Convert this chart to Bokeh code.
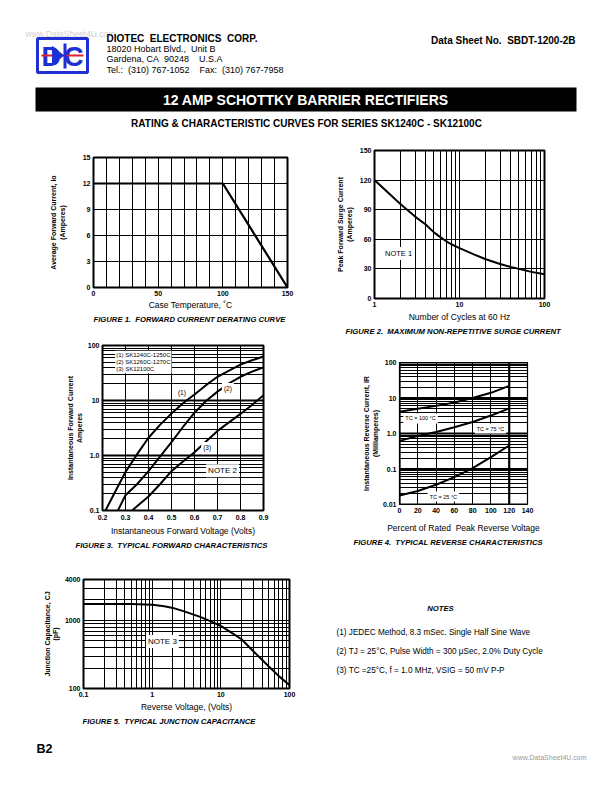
from bokeh.plotting import figure
from bokeh.models import Range1d, FixedTicker, Label, Title, Span
from bokeh.layouts import column, row
from bokeh.embed import file_html
from bokeh.resources import INLINE
from bokeh.core.properties import value

FONT = "Liberation Sans"
NB = "\u00a0"

# ---------------- data ----------------
fig1_temp = [0, 100, 150]
fig1_current = [12, 12, 0]
fig1_xticks = [0, 50, 100, 150]
fig1_yticks = [0, 3, 6, 9, 12, 15]

fig2_cycles = [1, 2, 3, 4, 5, 6, 7, 8, 10, 15, 20, 30, 40, 50, 70, 100]
fig2_surge = [120, 96, 83, 75, 67, 62, 58, 55, 51, 44.5, 40, 35, 32, 30, 27, 24.5]
fig2_xticks = [1, 10, 100]
fig2_yticks = [0, 30, 60, 90, 120, 150]

fig3_v1 = [0.213, 0.25, 0.3, 0.35, 0.4, 0.45, 0.5, 0.55, 0.6, 0.65, 0.7, 0.75, 0.8, 0.85, 0.9]
fig3_i1 = [0.1, 0.2, 0.5, 1.05, 2.1, 3.6, 5.8, 8.9, 12.9, 19, 27, 35, 45, 54, 63]
fig3_v2 = [0.267, 0.3, 0.35, 0.4, 0.45, 0.5, 0.55, 0.6, 0.65, 0.7, 0.75, 0.8, 0.85, 0.9]
fig3_i2 = [0.1, 0.19, 0.3, 0.52, 0.95, 1.75, 3.3, 6.0, 9.8, 14.5, 20.5, 27, 33.5, 40]
fig3_v3 = [0.329, 0.35, 0.4, 0.45, 0.5, 0.55, 0.6, 0.65, 0.7, 0.75, 0.8, 0.85, 0.9]
fig3_i3 = [0.1, 0.12, 0.18, 0.3, 0.52, 0.78, 1.15, 1.8, 2.8, 4.0, 5.7, 8.3, 12.5]
fig3_xticks = [0.2, 0.3, 0.4, 0.5, 0.6, 0.7, 0.8, 0.9]
fig3_yticks = [0.1, 1, 10, 100]
fig3_ylabels = {0.1: "0.1", 1: "1.0", 10: "10", 100: "100"}
fig3_legend = "(1) SK1240C-1250C\n(2) SK1260C-1270C\n(3) SK12100C"

fig4_pct = [0, 20, 40, 60, 80, 100, 120]
fig4_ir100 = [4.1, 5.0, 6.0, 7.5, 10, 14, 22]
fig4_ir75 = [0.62, 0.85, 1.1, 1.5, 2.1, 3.2, 5.1]
fig4_ir25 = [0.018, 0.024, 0.036, 0.059, 0.106, 0.215, 0.46]
fig4_xticks = [0, 20, 40, 60, 80, 100, 120, 140]
fig4_yticks = [0.01, 0.1, 1, 10, 100]
fig4_ylabels = {0.01: "0.01", 0.1: "0.1", 1: "1.0", 10: "10", 100: "100"}

fig5_vr = [0.1, 0.2, 0.5, 1, 1.5, 2, 3, 5, 7, 10, 15, 20, 30, 50, 70, 100]
fig5_cj = [1750, 1750, 1740, 1700, 1620, 1530, 1350, 1130, 980, 830, 640, 530, 350, 210, 152, 112]
fig5_xticks = [0.1, 1, 10, 100]
fig5_xlabels = {0.1: "0.1", 1: "1", 10: "10", 100: "100"}
fig5_yticks = [100, 1000, 4000]
fig5_ylabels = {100: "100", 1000: "1000", 4000: "4000"}

notes = [
    "(1) JEDEC Method, 8.3 mSec. Single Half Sine Wave",
    "(2) TJ = 25\u00b0C, Pulse Width = 300 \u03bcSec, 2.0% Duty Cycle",
    "(3) TC =25\u00b0C, f = 1.0 MHz, VSIG = 50 mV P-P",
]


def log_minor(lo_exp, hi_exp, upto=None):
    out = []
    for e in range(lo_exp, hi_exp):
        for m in range(1, 10):
            out.append(m * 10.0 ** e)
    out.append(10.0 ** hi_exp)
    if upto is not None:
        out = [t for t in out if t <= upto * 1.0001]
    return out


def page_fig(x0, x1, y0, y1):
    p = figure(width=x1 - x0, height=y1 - y0, x_range=Range1d(x0, x1),
               y_range=Range1d(y1, y0), x_axis_type=None, y_axis_type=None,
               output_backend="svg", toolbar_location=None, title=None,
               min_border=0)
    p.outline_line_color = None
    p.background_fill_color = "white"
    p.border_fill_color = "white"
    return p


def txt(p, x, y, s, size, style="normal", align="left", color="black"):
    p.text(x=[x], y=[y], text=[s], text_font=value(FONT), text_font_size=size,
           text_font_style=style, text_align=align, text_baseline="middle",
           text_color=color)


def make_chart(w, h, left, right, top, bottom, xr, yr, xlog=False, ylog=False):
    p = figure(width=w, height=h, x_range=Range1d(*xr), y_range=Range1d(*yr),
               x_axis_type="log" if xlog else "linear",
               y_axis_type="log" if ylog else "linear",
               output_backend="svg", toolbar_location=None, title=None,
               min_border_left=left, min_border_right=right,
               min_border_top=top, min_border_bottom=bottom)
    p.outline_line_color = "black"
    p.outline_line_width = 2
    p.outline_line_alpha = 1
    p.border_fill_color = "white"
    p.background_fill_color = "white"
    for ax in p.axis:
        ax.axis_line_color = None
        ax.major_tick_line_color = None
        ax.minor_tick_line_color = None
        ax.major_tick_out = 0
        ax.major_tick_in = 0
        ax.minor_tick_out = 0
        ax.minor_tick_in = 0
        ax.major_label_text_font = FONT
        ax.major_label_text_font_size = "7px"
        ax.major_label_text_font_style = "bold"
        ax.major_label_text_color = "black"
        ax.major_label_standoff = 3
        ax.axis_label_text_font = FONT
        ax.axis_label_text_color = "black"
    p.xaxis.axis_label_text_font_size = "8.5px"
    p.xaxis.axis_label_text_font_style = "normal"
    p.xaxis.axis_label_standoff = 4
    p.yaxis.axis_label_text_font_size = "7px"
    p.yaxis.axis_label_text_font_style = "bold"
    p.grid.grid_line_color = "black"
    p.grid.grid_line_alpha = 1
    p.grid.grid_line_width = 1
    p.grid.minor_grid_line_color = None
    return p


def caption(p, text, offset, standoff=0):
    p.add_layout(Title(text=text, align="left", offset=offset, standoff=standoff,
                       text_font=FONT, text_font_size="7.7px",
                       text_font_style="bold italic", text_color="black"), "below")


def note_label(p, x, y, s, size="7.5px", align="center"):
    p.add_layout(Label(x=x, y=y, text=s, text_font=FONT, text_font_size=size,
                       text_align=align, text_baseline="middle",
                       background_fill_color="white", text_color="black",
                       padding=2))


# ---------------- header ----------------
hdr = page_fig(0, 604, 0, 130)
txt(hdr, 25, 33, "www.DataSheet4U.com", "8.5px", color="#cfcfcf")
# logo
hdr.quad(left=[37], right=[87], top=[38], bottom=[72], fill_color="white",
         line_color="#1f2fd6", line_width=3)
txt(hdr, 41, 56, "D", "27px", "bold", color="#1f2fd6")
txt(hdr, 83, 56, "C", "27px", "bold", align="right", color="#1f2fd6")
hdr.line(x=[41, 83], y=[55, 55], line_color="#e0202a", line_width=2)
hdr.patch(x=[52, 52, 63], y=[46, 64, 55], fill_color="#1f2fd6", line_color="#1f2fd6")
hdr.quad(left=[63], right=[66], top=[43], bottom=[68], fill_color="#1f2fd6", line_color=None)
txt(hdr, 106, 38, "DIOTEC" + NB * 2 + "ELECTRONICS" + NB * 2 + "CORP.", "10px", "bold")
txt(hdr, 106, 48.5, "18020 Hobart Blvd.," + NB * 2 + "Unit B", "9px")
txt(hdr, 106, 58.5, "Gardena, CA" + NB * 2 + "90248" + NB * 4 + "U.S.A", "9px")
txt(hdr, 106, 69, "Tel.:" + NB * 2 + "(310) 767-1052" + NB * 4 + "Fax:" + NB * 2 + "(310) 767-7958", "9px")
txt(hdr, 575, 40, "Data Sheet No." + NB * 2 + "SBDT-1200-2B", "10px", "bold", align="right")
hdr.quad(left=[35], right=[576], top=[87], bottom=[111], fill_color="black", line_color=None)
txt(hdr, 305.5, 99.5, "12 AMP SCHOTTKY BARRIER RECTIFIERS", "14px", "bold", align="center", color="white")
txt(hdr, 306, 123, "RATING & CHARACTERISTIC CURVES FOR SERIES SK1240C - SK12100C", "10px", "bold", align="center")

# ---------------- figure 1 ----------------
f1 = make_chart(320, 207, 93, 33, 27, 50, (0, 150), (0, 15))
f1.xaxis.ticker = FixedTicker(ticks=fig1_xticks)
f1.yaxis.ticker = FixedTicker(ticks=fig1_yticks)
f1.xgrid.ticker = FixedTicker(ticks=list(range(0, 151, 10)))
f1.ygrid.ticker = FixedTicker(ticks=fig1_yticks)
f1.xaxis.axis_label = "Case Temperature, \u02daC"
f1.xaxis.axis_label_standoff = 1
f1.yaxis.axis_label = "Average Forward Current, Io\n(Amperes)"
f1.yaxis.axis_label_standoff = 14
f1.line(fig1_temp, fig1_current, line_color="black", line_width=2.2)
caption(f1, "FIGURE 1." + NB * 2 + "FORWARD CURRENT DERATING CURVE", 0)

# ---------------- figure 2 ----------------
f2 = make_chart(284, 207, 54, 60, 20, 39, (1, 100), (0, 150), xlog=True)
f2.xaxis.ticker = FixedTicker(ticks=fig2_xticks)
f2.xaxis.major_label_overrides = {1: "1", 10: "10", 100: "100"}
f2.yaxis.ticker = FixedTicker(ticks=fig2_yticks)
f2.xgrid.ticker = FixedTicker(ticks=log_minor(0, 2))
f2.ygrid.ticker = FixedTicker(ticks=fig2_yticks)
f2.xaxis.axis_label = "Number of Cycles at 60 Hz"
f2.xaxis.axis_label_standoff = 2
f2.yaxis.axis_label = "Peak Forward Surge Current\n(Amperes)"
f2.yaxis.axis_label_standoff = 4
f2.line(fig2_cycles, fig2_surge, line_color="black", line_width=2)
note_label(f2, 1.92, 45.6, "NOTE 1")
caption(f2, "FIGURE 2." + NB * 2 + "MAXIMUM NON-REPETITIVE SURGE CURRENT", -29)

# ---------------- figure 3 ----------------
f3 = make_chart(330, 216, 102, 67, 8, 43, (0.2, 0.9), (0.1, 100), ylog=True)
f3.xaxis.ticker = FixedTicker(ticks=fig3_xticks)
f3.xaxis.major_label_standoff = 4
f3.xaxis.axis_label_standoff = 3
f3.yaxis.ticker = FixedTicker(ticks=fig3_yticks)
f3.yaxis.major_label_overrides = fig3_ylabels
f3.xgrid.ticker = FixedTicker(ticks=fig3_xticks)
f3.ygrid.ticker = FixedTicker(ticks=log_minor(-1, 2))
for d in fig3_yticks[1:-1]:
    f3.add_layout(Span(location=d, dimension="width", line_color="black", line_width=1.8))
f3.xaxis.axis_label = "Instantaneous Forward Voltage (Volts)"
f3.yaxis.axis_label = "Instantaneous Forward Current\nAmperes"
f3.yaxis.axis_label_standoff = 2
f3.line(fig3_v1, fig3_i1, line_color="black", line_width=2)
f3.line(fig3_v2, fig3_i2, line_color="black", line_width=2)
f3.line(fig3_v3, fig3_i3, line_color="black", line_width=2)
f3.add_layout(Label(x=0.255, y=80, text=fig3_legend, text_font=FONT, text_font_size="6px",
                    text_align="left", text_baseline="top", background_fill_color="white",
                    text_color="black", padding=1))
note_label(f3, 0.545, 14, "(1)", "6.5px")
note_label(f3, 0.745, 16.5, "(2)", "6.5px")
note_label(f3, 0.655, 1.4, "(3)", "6.5px")
note_label(f3, 0.722, 0.53, "NOTE 2", "8px")
caption(f3, "FIGURE 3." + NB * 2 + "TYPICAL FORWARD CHARACTERISTICS", -27)

# ---------------- figure 4 ----------------
f4 = make_chart(274, 216, 69, 77, 25, 49, (0, 140), (0.01, 100), ylog=True)
f4.outline_line_width = 1.2
f4.xaxis.ticker = FixedTicker(ticks=fig4_xticks)
f4.yaxis.ticker = FixedTicker(ticks=fig4_yticks)
f4.yaxis.major_label_overrides = fig4_ylabels
f4.xgrid.ticker = FixedTicker(ticks=fig4_xticks)
f4.ygrid.ticker = FixedTicker(ticks=log_minor(-2, 2))
for d in fig4_yticks:
    f4.add_layout(Span(location=d, dimension="width", line_color="black", line_width=1.8))
f4.add_layout(Span(location=0, dimension="height", line_color="black", line_width=2.2))
f4.add_layout(Span(location=120, dimension="height", line_color="black", line_width=2.2))
f4.xaxis.axis_label = "Percent of Rated" + NB * 2 + "Peak Reverse Voltage"
f4.xaxis.axis_label_standoff = 7
f4.yaxis.axis_label = "Instantaneous Reverse Current, IR\n(Milliamperes)"
f4.yaxis.axis_label_standoff = 1
f4.line(fig4_pct, fig4_ir100, line_color="black", line_width=2)
f4.line(fig4_pct, fig4_ir75, line_color="black", line_width=2)
f4.line(fig4_pct, fig4_ir25, line_color="black", line_width=2)
note_label(f4, 23, 2.65, "TC = 100 \u00b0C", "5.5px")
note_label(f4, 99.5, 1.38, "TC = 75 \u00b0C", "5.5px")
note_label(f4, 48, 0.0168, "TC = 25 \u00b0C", "5.5px")
caption(f4, "FIGURE 4." + NB * 2 + "TYPICAL REVERSE CHARACTERISTICS", -46)

# ---------------- figure 5 ----------------
f5 = make_chart(320, 182, 83, 31, 26, 47, (0.1, 100), (100, 4000), xlog=True, ylog=True)
f5.xaxis.ticker = FixedTicker(ticks=fig5_xticks)
f5.xaxis.major_label_overrides = fig5_xlabels
f5.yaxis.ticker = FixedTicker(ticks=fig5_yticks)
f5.yaxis.major_label_overrides = fig5_ylabels
f5.xgrid.ticker = FixedTicker(ticks=log_minor(-1, 2))
f5.ygrid.ticker = FixedTicker(ticks=log_minor(2, 4, upto=4000))
f5.xaxis.axis_label = "Reverse Voltage, (Volts)"
f5.xaxis.axis_label_standoff = 2
f5.yaxis.axis_label = "Junction Capacitance, CJ\n(pF)"
f5.yaxis.axis_label_standoff = 3
f5.line(fig5_vr, fig5_cj, line_color="black", line_width=2)
note_label(f5, 1.41, 491, "NOTE 3", "8px")
caption(f5, "FIGURE 5." + NB * 2 + "TYPICAL JUNCTION CAPACITANCE", -1)

# ---------------- notes ----------------
nf = page_fig(320, 604, 553, 735)
txt(nf, 440, 608, "NOTES", "7.7px", "bold italic", align="center")
for i, s in enumerate(notes):
    txt(nf, 336, 632 + 19 * i, s, "8.2px")

# ---------------- footer ----------------
ft = page_fig(0, 604, 735, 784)
txt(ft, 36, 748, "B2", "12.5px", "bold")
txt(ft, 586, 757, "www.DataSheet4U.com", "7px", align="right", color="#9a9a9a")

layout = column(hdr,
                row(column(f1), column(f2)),
                row(column(f3), column(f4)),
                row(column(f5), column(nf)),
                ft)

open("out.html", "w").write(file_html(layout, INLINE))
